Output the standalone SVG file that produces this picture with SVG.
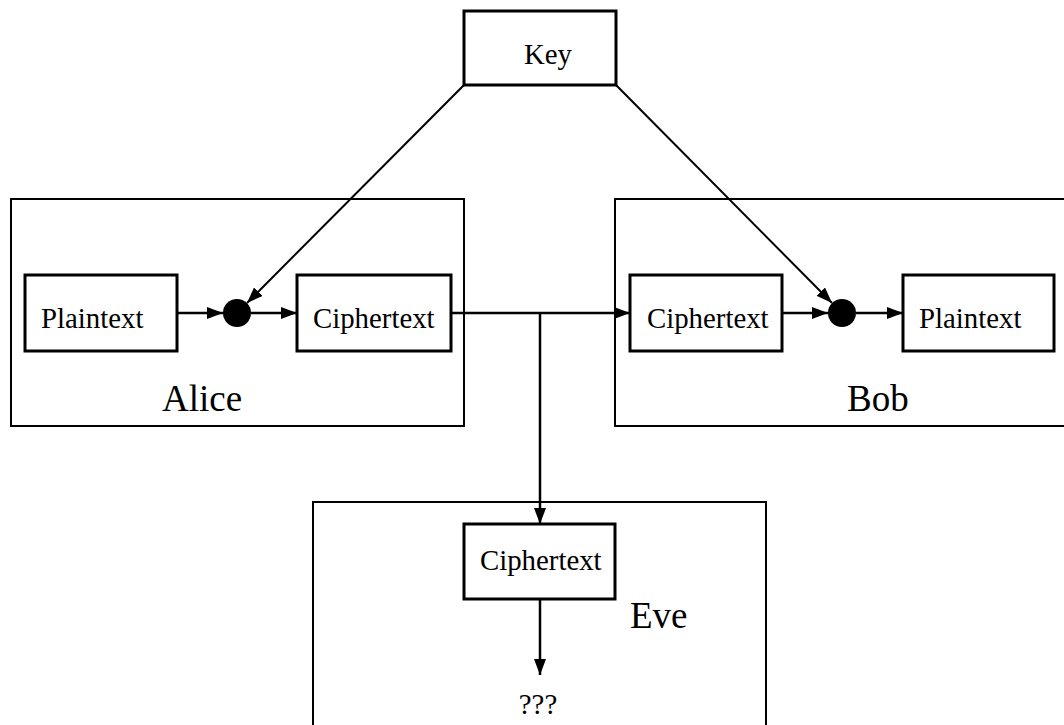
<svg xmlns="http://www.w3.org/2000/svg" width="1064" height="725" viewBox="0 0 1064 725">
  <style>
    .outer { fill: none; stroke: #000; stroke-width: 2; }
    .box { fill: #fff; stroke: #000; stroke-width: 3; }
    .t { font-family: "Liberation Serif", "Times New Roman", serif; font-size: 28.8px; fill: #000; }
    .big { font-family: "Liberation Serif", "Times New Roman", serif; font-size: 37px; fill: #000; }
    .c { fill: none; stroke: #000; stroke-width: 2.5; marker-end: url(#ah); }
    .d { fill: none; stroke: #000; stroke-width: 2; marker-end: url(#ah); }
    .dot { fill: #000; }
  </style>
  <defs>
    <marker id="ah" markerUnits="userSpaceOnUse" markerWidth="16" markerHeight="12" refX="16" refY="6" orient="auto">
      <path d="M0,0 L16,6 L0,12 z" fill="#000"/>
    </marker>
  </defs>

  <g id="alice">
    <rect class="outer" x="11" y="199" width="453" height="227"/>
    <text class="big" x="162" y="411">Alice</text>
  </g>
  <g id="bob">
    <rect class="outer" x="615" y="199" width="470" height="227"/>
    <text class="big" x="847" y="411">Bob</text>
  </g>
  <g id="eve">
    <rect class="outer" x="313" y="502" width="453" height="260"/>
    <text class="big" x="630" y="628">Eve</text>
  </g>

  <g id="connectors">
    <line class="d" x1="464" y1="85" x2="247" y2="303"/>
    <line class="d" x1="616" y1="85" x2="832" y2="303"/>
    <line class="c" x1="177" y1="313" x2="223" y2="313"/>
    <line class="c" x1="251" y1="313" x2="297" y2="313"/>
    <line class="c" x1="451" y1="313" x2="630" y2="313"/>
    <line class="c" x1="540" y1="313" x2="540" y2="524"/>
    <line class="c" x1="782" y1="313" x2="828" y2="313"/>
    <line class="c" x1="856" y1="313" x2="903" y2="313"/>
    <line class="c" x1="540" y1="599" x2="540" y2="675"/>
  </g>

  <g id="key">
    <rect class="box" x="464" y="11" width="152" height="74"/>
    <text class="t" x="524" y="64">Key</text>
  </g>
  <g id="alice-plaintext">
    <rect class="box" x="25" y="275" width="152" height="76"/>
    <text class="t" x="41" y="328">Plaintext</text>
  </g>
  <g id="alice-dot">
    <circle class="dot" cx="237" cy="313" r="14"/>
  </g>
  <g id="alice-ciphertext">
    <rect class="box" x="297" y="275" width="154" height="76"/>
    <text class="t" x="313" y="328">Ciphertext</text>
  </g>
  <g id="bob-ciphertext">
    <rect class="box" x="630" y="275" width="152" height="76"/>
    <text class="t" x="647" y="328">Ciphertext</text>
  </g>
  <g id="bob-dot">
    <circle class="dot" cx="842" cy="313" r="14"/>
  </g>
  <g id="bob-plaintext">
    <rect class="box" x="903" y="275" width="151" height="76"/>
    <text class="t" x="919" y="328">Plaintext</text>
  </g>
  <g id="eve-ciphertext">
    <rect class="box" x="464" y="524" width="151" height="75"/>
    <text class="t" x="480" y="570">Ciphertext</text>
  </g>
  <g id="eve-unknown">
    <text class="t" x="538" y="714" text-anchor="middle">???</text>
  </g>
</svg>
